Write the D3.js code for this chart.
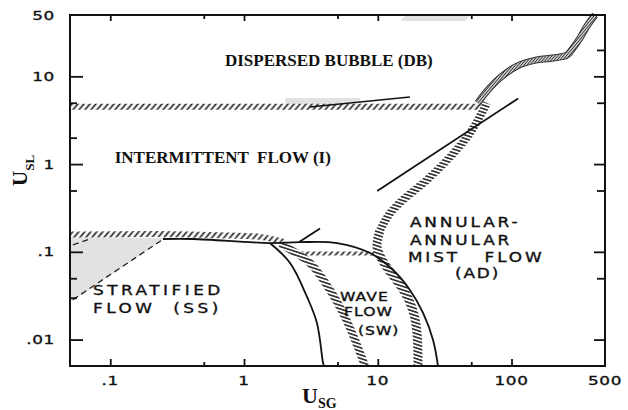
<!DOCTYPE html>
<html>
<head>
<meta charset="utf-8">
<script src="https://cdn.jsdelivr.net/npm/d3@7"></script>
<style>
  body { margin: 0; background: #fff; }
  svg { display: block; }
</style>
</head>
<body>
<svg id="chart" width="628" height="410"></svg>
<script>
// ---- axis ticks and labels ----
const xLabelValues = [0.1, 1, 10, 100, 500];
const xLabelText   = [".1", "1", "10", "100", "500"];
const yLabelValues = [0.01, 0.1, 1, 10, 50];
const yLabelText   = [".01", ".1", "1", "10", "50"];
const xMajorTicks  = [0.1, 1, 10, 100];
const xMinorTicks  = [0.5, 5, 50];
const yMajorTicks  = [0.01, 0.1, 1, 10];
const yMinorLeft   = [0.03, 0.05, 0.5, 2, 5];
const yMinorRight  = [0.05, 0.5, 5, 20];

// ---- regime boundaries, [U_SG, U_SL] in m/s ----
// dispersed bubble / intermittent transition (hatched band)
const dbBand    = [[0.05, 4.5], [62, 4.5]];
const dbSolid   = [[3.1, 4.48], [17.4, 5.82]];
const dbShade   = [[2.03, 5.66], [7.37, 5.66], [7.37, 5.24], [3.11, 4.59], [2.03, 4.71]];
const topShade  = [[14.7, 42.7], [16.2, 50], [49, 50], [45, 42.7]];
// dispersed bubble / annular transition (S-shaped band)
const sCurve    = [[56, 4.97], [65.6, 6.8], [82, 9.6], [110, 13.1], [155, 15.4], [204, 16.2],
                   [260, 17.5], [288, 21], [325, 27.3], [367, 37.5], [421, 50]];
// straight line U_SL = 0.05 U_SG (two pieces)
const diagLineA = [[2.6, 0.13], [3.7, 0.185]];
const diagLineB = [[9.9, 0.495], [112, 5.6]];
// stratified / intermittent transition
const ssBand    = [[0.05, 0.158], [0.235, 0.16], [0.66, 0.155], [1.32, 0.148], [2.03, 0.129]];
const ssUpper   = [[0.248, 0.14], [0.416, 0.14], [1.56, 0.126], [2.62, 0.129], [4.96, 0.126],
                   [8.75, 0.097], [13, 0.0621], [17.4, 0.0367], [21.8, 0.0201], [25.9, 0.00989], [28.2, 0.005]];
const ssShade   = [[0.05, 0.148], [0.257, 0.144], [0.0526, 0.0275], [0.05, 0.0275]];
const ssDashed  = [[0.0526, 0.0285], [0.257, 0.144]];
const ssDashed2 = [[0.0526, 0.12], [0.0706, 0.14]];
// stratified smooth / wavy
const swSolid   = [[1.56, 0.126], [2.21, 0.0747], [2.96, 0.0306], [3.51, 0.01545], [3.9, 0.0054], [3.96, 0.005]];
const swBand    = [[1.86, 0.123], [3.11, 0.0747], [4.39, 0.0367], [5.69, 0.0181], [6.76, 0.00989], [8.03, 0.005]];
const swTopBand = [[2.6, 0.0957], [10.2, 0.0957]];
// intermittent / annular transition
const adBandUpper = [[65.6, 4.97], [49, 2.26], [34.7, 1.2], [23.3, 0.659], [15.4, 0.39], [12.4, 0.277], [10.4, 0.177]];
const adBandLower = [[10.4, 0.177], [9.87, 0.1135], [10.8, 0.0807], [12.4, 0.0589], [14.7, 0.0419],
                     [17.1, 0.0282], [18.7, 0.0191], [19.7, 0.0113], [20, 0.005]];

// ---- region names, anchored at [U_SG, U_SL] ----
const serifLabels = [
  { text: "DISPERSED BUBBLE (DB)", at: [0.72, 13.1] },
  { text: "INTERMITTENT  FLOW (I)", at: [0.108, 1.03] }
];
const gothicLabels = [
  { text: "STRATIFIED", at: [0.0743, 0.0322], size: 13.5, ls: 2.8 },
  { text: "FLOW  (SS)", at: [0.0743, 0.0201], size: 13.5, ls: 2.8 },
  { text: "ANNULAR-", at: [17.4, 0.192], size: 13.5, ls: 2.3 },
  { text: "ANNULAR", at: [17.4, 0.12], size: 13.5, ls: 2.3 },
  { text: "MIST   FLOW", at: [16.8, 0.0766], size: 13.5, ls: 2.3 },
  { text: "(AD)", at: [37.8, 0.0503], size: 13.5, ls: 1.5 },
  { text: "WAVE", at: [5.22, 0.0275], size: 12.5, ls: 0.8 },
  { text: "FLOW", at: [5.6, 0.0186], size: 12.5, ls: 0.8 },
  { text: "(SW)", at: [7.11, 0.0114], size: 12.5, ls: 0.8 }
];

const svg = d3.select("#chart");
const plotL = 70, plotR = 605, plotT = 15, plotB = 366;

const x = d3.scaleLog().domain([0.05, 500]).range([plotL, plotR]);
const y = d3.scaleLog().domain([0.005, 50]).range([plotB, plotT]);

const line = d3.line().x(d => x(d[0])).y(d => y(d[1])).curve(d3.curveCatmullRom.alpha(0.5));
const straight = d3.line().x(d => x(d[0])).y(d => y(d[1]));

// hatch patterns
const defs = svg.append("defs");
function hatch(id, size, angle, width, color) {
  const p = defs.append("pattern")
    .attr("id", id)
    .attr("patternUnits", "userSpaceOnUse")
    .attr("width", size).attr("height", size)
    .attr("patternTransform", `rotate(${angle})`);
  p.append("rect").attr("width", size).attr("height", size).attr("fill", "#fff");
  p.append("line")
    .attr("x1", size / 2).attr("y1", 0).attr("x2", size / 2).attr("y2", size)
    .attr("stroke", color).attr("stroke-width", width);
}
hatch("hatchSlash", 4.6, 40, 1.6, "#1a1a1a");
hatch("hatchFlat", 3.4, 108, 1.5, "#1a1a1a");
hatch("hatchFine", 2.2, 40, 1.1, "#2a2a2a");

const plot = svg.append("g");

// light grey shaded zones
const shade = "#e2e2e2";
[dbShade, topShade, ssShade].forEach(poly => {
  plot.append("path").attr("d", straight(poly) + "Z").attr("fill", shade).attr("stroke", "none");
});

// dashed guides in the stratified corner
[ssDashed, ssDashed2].forEach(seg => {
  plot.append("path").attr("d", straight(seg))
    .attr("fill", "none").attr("stroke", "#222").attr("stroke-width", 1.3)
    .attr("stroke-dasharray", "6,4");
});

// hatched transition bands
function band(pts, pattern, width, gen) {
  plot.append("path").attr("d", (gen || line)(pts))
    .attr("fill", "none").attr("stroke", `url(#${pattern})`)
    .attr("stroke-width", width).attr("stroke-linecap", "butt");
}
band(dbBand, "hatchSlash", 6, straight);
band(ssBand, "hatchSlash", 6);
band(swTopBand, "hatchSlash", 4, straight);
band(swBand, "hatchFlat", 8);
band(adBandUpper, "hatchFlat", 8);
band(adBandLower, "hatchFlat", 9);

// S-shaped band: dark outline with fine hatching
plot.append("path").attr("d", line(sCurve))
  .attr("fill", "none").attr("stroke", "#333").attr("stroke-width", 7);
plot.append("path").attr("d", line(sCurve))
  .attr("fill", "none").attr("stroke", "url(#hatchFine)").attr("stroke-width", 5);

// solid boundary lines
function solid(pts, gen, w) {
  plot.append("path").attr("d", (gen || line)(pts))
    .attr("fill", "none").attr("stroke", "#111").attr("stroke-width", w || 1.8);
}
solid(dbSolid, straight, 1.5);
solid(diagLineA, straight);
solid(diagLineB, straight);
solid(ssUpper);
solid(swSolid);

// frame
svg.append("rect")
  .attr("x", plotL).attr("y", plotT)
  .attr("width", plotR - plotL).attr("height", plotB - plotT)
  .attr("fill", "none").attr("stroke", "#111").attr("stroke-width", 2);

// inward ticks drawn by d3 axes
function ticks(axisFn, scale, values, size, transform) {
  const g = svg.append("g").attr("transform", transform)
    .call(axisFn(scale).tickValues(values).tickSize(size).tickSizeOuter(0).tickFormat(""));
  g.select(".domain").remove();
  g.selectAll(".tick line").attr("stroke", "#111").attr("stroke-width", 1.8);
}
ticks(d3.axisBottom, x, xMajorTicks, -7, `translate(0,${plotB})`);
ticks(d3.axisBottom, x, xMinorTicks, -4, `translate(0,${plotB})`);
ticks(d3.axisTop, x, xMajorTicks, -6, `translate(0,${plotT})`);
ticks(d3.axisTop, x, xMinorTicks, -4, `translate(0,${plotT})`);
ticks(d3.axisLeft, y, yMajorTicks, -13, `translate(${plotL},0)`);
ticks(d3.axisLeft, y, yMinorLeft, -7, `translate(${plotL},0)`);
ticks(d3.axisRight, y, yMajorTicks, -11, `translate(${plotR},0)`);
ticks(d3.axisRight, y, yMinorRight, -8, `translate(${plotR},0)`);

// lettering-guide style text (wide sans)
const gothicFont = "'DejaVu Sans', sans-serif";
function wide(text, px, py, anchor, size, spacing, sx) {
  svg.append("text")
    .attr("transform", `translate(${px},${py}) scale(${sx},1)`)
    .attr("text-anchor", anchor)
    .attr("font-family", gothicFont)
    .attr("font-size", size)
    .attr("letter-spacing", spacing)
    .style("white-space", "pre")
    .attr("fill", "#111")
    .attr("stroke", "#111").attr("stroke-width", 0.35)
    .text(text);
}

// tick labels
xLabelValues.forEach((v, i) => wide(xLabelText[i], x(v), 385, "middle", 12.5, 0.5, 1.35));
yLabelValues.forEach((v, i) => wide(yLabelText[i], 55, y(v) + 4.5, "end", 12.5, 0.5, 1.35));

// region names
gothicLabels.forEach(d => wide(d.text, x(d.at[0]), y(d.at[1]), "start", d.size, d.ls, 1.25));
serifLabels.forEach(d => {
  svg.append("text")
    .attr("x", x(d.at[0])).attr("y", y(d.at[1]))
    .attr("font-family", "'Liberation Serif', 'Times New Roman', serif")
    .attr("font-weight", "bold").attr("font-size", 17)
    .style("white-space", "pre")
    .attr("fill", "#111")
    .text(d.text);
});

// axis titles
const xt = svg.append("text")
  .attr("x", 302).attr("y", 403)
  .attr("font-family", "'Liberation Serif', 'Times New Roman', serif")
  .attr("font-weight", "bold").attr("font-size", 22).attr("fill", "#111");
xt.append("tspan").text("U");
xt.append("tspan").attr("font-size", 14).attr("dy", 5).text("SG");

const yt = svg.append("text")
  .attr("transform", "translate(27,186) rotate(-90)")
  .attr("font-family", "'Liberation Serif', 'Times New Roman', serif")
  .attr("font-weight", "bold").attr("font-size", 21).attr("fill", "#111");
yt.append("tspan").text("U");
yt.append("tspan").attr("font-size", 13).attr("dy", 7).text("SL");
</script>
</body>
</html>
